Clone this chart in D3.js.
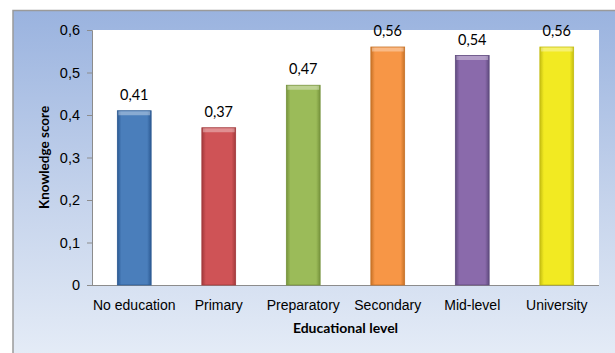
<!DOCTYPE html>
<html>
<head>
<meta charset="utf-8">
<script src="https://cdn.jsdelivr.net/npm/d3@7"></script>
<style>
  body { margin: 0; background: #fff; }
  svg { display: block; font-family: Lato, "Open Sans", sans-serif; }
</style>
</head>
<body>
<div id="vis"></div>
<script>
var width = 615;
var height = 353;

var categories = ["No education", "Primary", "Preparatory", "Secondary", "Mid-level", "University"];
var scores = [0.41, 0.37, 0.47, 0.56, 0.54, 0.56];
var barColors = ["#4a7ebb", "#cf5356", "#9bbb59", "#f79646", "#8a6aab", "#f2ea22"];
var edgeColors = ["#2c5a93", "#a23a3c", "#76933c", "#c77227", "#5f4a7e", "#c4bd12"];
var yTicks = [0, 0.1, 0.2, 0.3, 0.4, 0.5, 0.6];

var plot = {left: 92, right: 599, top: 30, bottom: 285};

var canvas = d3.select("#vis")
  .append("svg")
  .attr("width", width)
  .attr("height", height);

var defs = canvas.append("defs");

var bg = defs.append("linearGradient")
  .attr("id", "bg")
  .attr("x1", "0%").attr("y1", "0%")
  .attr("x2", "0%").attr("y2", "100%");
bg.append("stop").attr("offset", "0%").attr("stop-color", "#9ab3df");
bg.append("stop").attr("offset", "55%").attr("stop-color", "#c6d4ec");
bg.append("stop").attr("offset", "100%").attr("stop-color", "#e6edf7");

// one horizontal gradient per bar, darker at the edges
categories.forEach(function (c, i) {
  var g = defs.append("linearGradient")
    .attr("id", "bar" + i)
    .attr("x1", "0%").attr("y1", "0%")
    .attr("x2", "100%").attr("y2", "0%");
  g.append("stop").attr("offset", "0%").attr("stop-color", edgeColors[i]);
  g.append("stop").attr("offset", "12%").attr("stop-color", barColors[i]);
  g.append("stop").attr("offset", "88%").attr("stop-color", barColors[i]);
  g.append("stop").attr("offset", "100%").attr("stop-color", edgeColors[i]);
});

// outer chart area
canvas.append("rect")
  .attr("x", 13)
  .attr("y", 10.5)
  .attr("width", width)
  .attr("height", height)
  .style("fill", "url(#bg)")
  .style("stroke", "#9a9a9a")
  .style("stroke-width", 1.5);

canvas.append("rect")
  .attr("x", plot.left)
  .attr("y", plot.top)
  .attr("width", plot.right - plot.left)
  .attr("height", plot.bottom - plot.top)
  .style("fill", "#fff");

const x = d3.scaleBand()
  .domain(categories)
  .range([plot.left, plot.right])
  .paddingInner(0.6)
  .paddingOuter(0.3);

const y = d3.scaleLinear()
  .domain([0, 0.6])
  .range([plot.bottom, plot.top]);

const fmt = d => d3.format(".2f")(d).replace(".", ",");

const yAxis = d3.axisLeft(y)
  .tickValues(yTicks)
  .tickSize(5)
  .tickPadding(7)
  .tickFormat(d => d === 0 ? "0" : d3.format(".1f")(d).replace(".", ","));

var yg = canvas.append("g")
  .attr("transform", `translate(${plot.left}, 0)`)
  .call(yAxis);
yg.select(".domain").style("stroke", "#8c8c8c");
yg.selectAll(".tick line").style("stroke", "#8c8c8c");
yg.selectAll(".tick text")
  .style("font-size", "14.5px")
  .style("fill", "#000");

const xAxis = d3.axisBottom(x)
  .tickSize(0)
  .tickPadding(15);

var xg = canvas.append("g")
  .attr("transform", `translate(0, ${plot.bottom})`)
  .call(xAxis);
xg.select(".domain").attr("d", `M${plot.left},0.5H${plot.right}`).style("stroke", "#8c8c8c");
xg.selectAll(".tick text")
  .style("font-size", "14px")
  .style("fill", "#000");

var bars = canvas.selectAll(".bar")
  .data(scores)
  .enter()
  .append("g")
  .attr("class", "bar");

bars.append("rect")
  .attr("x", (d, i) => x(categories[i]))
  .attr("y", d => y(d))
  .attr("width", x.bandwidth())
  .attr("height", d => y(0) - y(d))
  .style("fill", (d, i) => `url(#bar${i})`)
  .style("stroke", (d, i) => edgeColors[i])
  .style("stroke-width", 0.8);

// top bevel
bars.append("rect")
  .attr("x", (d, i) => x(categories[i]) + 1)
  .attr("y", d => y(d) + 0.5)
  .attr("width", x.bandwidth() - 2)
  .attr("height", 4)
  .style("fill", "#fff")
  .style("opacity", 0.35);

bars.append("text")
  .attr("x", (d, i) => x(categories[i]) + x.bandwidth() / 2)
  .attr("y", d => y(d) - 11)
  .attr("text-anchor", "middle")
  .style("font-size", "14.5px")
  .text(d => fmt(d));

canvas.append("text")
  .attr("x", (plot.left + plot.right) / 2)
  .attr("y", 333)
  .attr("text-anchor", "middle")
  .style("font-size", "14px")
  .style("font-weight", "bold")
  .text("Educational level");

canvas.append("text")
  .attr("transform", `translate(49, ${(plot.top + plot.bottom) / 2}) rotate(-90)`)
  .attr("text-anchor", "middle")
  .style("font-size", "13.5px")
  .style("font-weight", "bold")
  .text("Knowledge score");
</script>
</body>
</html>
